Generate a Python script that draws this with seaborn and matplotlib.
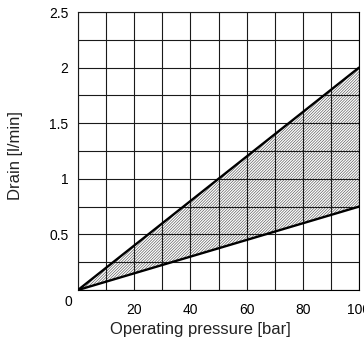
import matplotlib
matplotlib.use("Agg")
import matplotlib.pyplot as plt
import seaborn as sns
import numpy as np
import pandas as pd

# Drain flow envelope vs operating pressure
pressure = [0, 100]
drain_max = [0, 2.0]
drain_min = [0, 0.75]

x_major = [20, 40, 60, 80, 100]
x_labels = ["20", "40", "60", "80", "100"]
y_major = [0.5, 1.0, 1.5, 2.0, 2.5]
y_labels = ["0.5", "1", "1.5", "2", "2.5"]

sns.set_theme(style="white")
plt.rcParams["font.family"] = ["Liberation Sans", "DejaVu Sans"]
plt.rcParams["hatch.linewidth"] = 0.45
plt.rcParams["hatch.color"] = "#555555"

fig, ax = plt.subplots(figsize=(3.64, 3.44), dpi=100)
fig.subplots_adjust(left=78 / 364, right=359 / 364, top=1 - 12 / 344, bottom=1 - 290 / 344)

df = pd.DataFrame({"p": pressure, "hi": drain_max, "lo": drain_min})

# Hatched band between the two limits
ax.fill_between(df["p"], df["lo"], df["hi"], facecolor="none", edgecolor="#555555",
                hatch="/" * 12, linewidth=0, zorder=1)

sns.lineplot(data=df, x="p", y="hi", color="black", linewidth=1.7, ax=ax, zorder=3)
sns.lineplot(data=df, x="p", y="lo", color="black", linewidth=1.7, ax=ax, zorder=3)

ax.set_xlim(0, 100)
ax.set_ylim(0, 2.5)

ax.set_xticks(x_major)
ax.set_xticklabels(x_labels)
ax.set_xticks(np.arange(0, 101, 10), minor=True)
ax.set_yticks(y_major)
ax.set_yticklabels(y_labels)
ax.set_yticks(np.arange(0, 2.51, 0.25), minor=True)

ax.grid(which="both", color="#1a1a1a", linewidth=0.8, zorder=2)
ax.set_axisbelow(False)
ax.tick_params(axis="both", which="both", length=0, labelsize=10, colors="black")
ax.tick_params(axis="x", pad=9)
ax.tick_params(axis="y", pad=7)

for s in ax.spines.values():
    s.set_visible(True)
    s.set_color("black")
    s.set_linewidth(0.8)

ax.annotate("0", xy=(0, 0), xytext=(-10, -12), textcoords="offset pixels",
            ha="center", va="center", fontsize=10, color="black")

ax.set_xlabel("Operating pressure [bar]", fontsize=12, color="#222222", labelpad=3)
ax.xaxis.set_label_coords(0.436, -0.115)
ax.set_ylabel("Drain [l/min]", fontsize=12, color="#222222")
ax.yaxis.set_label_coords(-0.196, 0.482)

fig.savefig("out.png", dpi=100)
